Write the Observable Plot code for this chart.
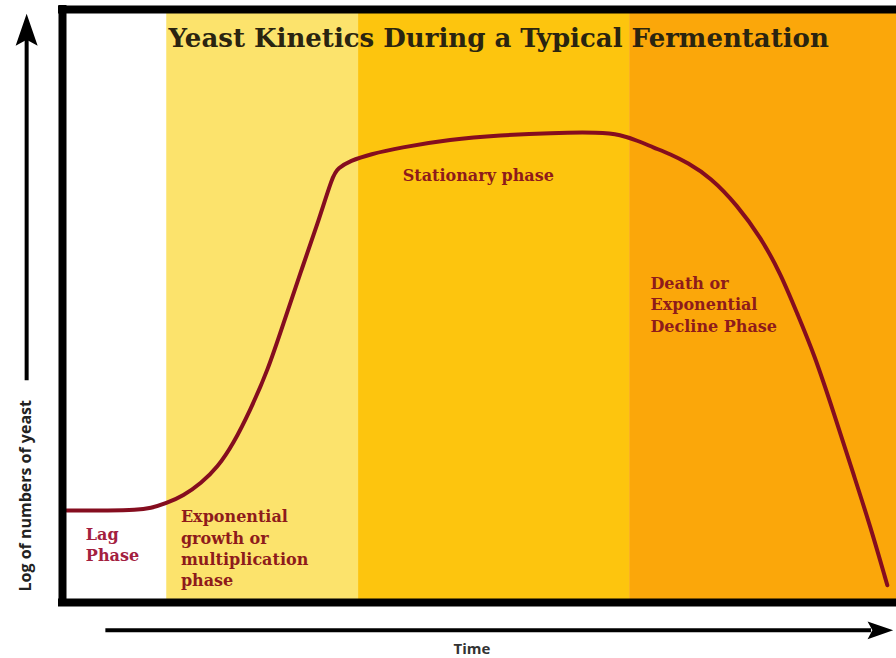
<!DOCTYPE html>
<html><head><meta charset="utf-8">
<script src="https://cdn.jsdelivr.net/npm/d3@7"></script>
<script src="https://cdn.jsdelivr.net/npm/@observablehq/plot@0.6"></script>
<style>html,body{margin:0;padding:0;background:#fff;} #chart svg{display:block}</style>
</head><body><div id="chart"></div>
<script>
// Curve (time in arbitrary units 0–100, log of yeast count in arbitrary units 0–100)
const time = [0.5, 5.8, 8.8, 10.6, 12.4, 14.5, 16.6, 18.6, 20.5, 22.5, 24.6, 26.5, 28.5, 30.6, 32.4, 33.0, 34.5, 36.9, 40.4, 46.5, 52.5, 58.5, 64.5, 66.9, 68.9, 70.9, 72.9, 74.9, 77.7, 80.9, 83.7, 86.1, 88.1, 90.1, 92.5, 94.8, 96.9, 98.9];
const logCount = [15.5, 15.5, 15.6, 15.9, 16.7, 18.0, 20.1, 22.8, 26.8, 32.4, 39.1, 47.1, 55.5, 63.9, 72.0, 73.2, 74.5, 75.6, 76.7, 78.1, 78.8, 79.2, 79.3, 78.9, 77.9, 76.7, 75.6, 74.2, 71.7, 67.0, 61.6, 55.5, 48.7, 42.0, 31.9, 21.8, 12.7, 2.9];

// Phases
const phaseNames = ["Lag", "Exponential", "Stationary", "Death"];
const phaseStart = [0, 12.5, 35.5, 68];
const phaseEnd = [12.5, 35.5, 68, 100];
const phaseLabels = ["Lag\nPhase", "Exponential\ngrowth or\nmultiplication\nphase", "Stationary phase", "Death or\nExponential\nDecline Phase"];
const labelTime = [2.8, 14.2, 40.8, 70.5];
const labelLog = [9.9, 9.3, 72.3, 50.4];

const title = "Yeast Kinetics During a Typical Fermentation";
const xLabel = "Time";
const yLabel = "Log of numbers of yeast";

const curve = time.map((t, i) => ({time: t, log: logCount[i]}));
const bands = phaseNames.map((p, i) => ({phase: p, start: phaseStart[i], end: phaseEnd[i]}));
const labels = phaseNames.map((p, i) => ({phase: p, text: phaseLabels[i], time: labelTime[i], log: labelLog[i]}));

const arrowHead = {
  draw(ctx, size) {
    const k = Math.sqrt(size / Math.PI) / 10;
    ctx.moveTo(0, 0);
    ctx.lineTo(-11 * k, 32 * k);
    ctx.lineTo(0, 26 * k);
    ctx.lineTo(11 * k, 32 * k);
    ctx.closePath();
  }
};

const serif = "'DejaVu Serif', 'Liberation Serif', serif";
const sans = "'Open Sans', 'DejaVu Sans', sans-serif";

const chart = Plot.plot({
  width: 896,
  height: 658,
  marginLeft: 62,
  marginRight: 0,
  marginTop: 9,
  marginBottom: 56,
  x: {domain: [0, 100], axis: null},
  y: {domain: [0, 100], axis: null},
  color: {domain: phaseNames, range: ["#ffffff", "#fce36c", "#fdc50e", "#fba70a"]},
  marks: [
    Plot.rect(bands, {x1: "start", x2: "end", y1: 0, y2: 100, fill: "phase"}),
    Plot.text([title], {x: 52.3, y: 95.1, text: d => d, fontFamily: serif, fontWeight: "bold", fontSize: 26, fill: "#2a2410"}),
    Plot.line(curve, {x: "time", y: "log", stroke: "#850d1f", strokeWidth: 4, curve: "basis"}),
    Plot.text(labels, {x: "time", y: "log", text: "text", textAnchor: "start", lineAnchor: "middle", lineHeight: 1.32,
      fontFamily: serif, fontWeight: "bold", fontSize: 16,
      fill: d => d.phase === "Lag" ? "#a3203f" : "#8e1b1b"}),
    // frame
    Plot.ruleY([0, 100], {stroke: "black", strokeWidth: 8, strokeLinecap: "square"}),
    Plot.ruleX([0], {stroke: "black", strokeWidth: 8, strokeLinecap: "square"}),
    // y axis arrow
    Plot.ruleX([-4.3], {y1: 37.4, y2: 95, stroke: "black", strokeWidth: 4}),
    Plot.dot([0], {x: -4.3, y: 99.3, symbol: arrowHead, r: 10, fill: "black", stroke: "none"}),
    Plot.text([yLabel], {x: -4.4, y: 18, text: d => d, rotate: -90, fontFamily: sans, fontWeight: "bold", fontSize: 16, fill: "#222"}),
    // x axis arrow
    Plot.ruleY([-4.7], {x1: 5.2, x2: 97, stroke: "black", strokeWidth: 4}),
    Plot.dot([0], {x: 99.6, y: -4.7, symbol: arrowHead, r: 8, rotate: 90, fill: "black", stroke: "none"}),
    Plot.text([xLabel], {x: 49.1, y: -7.9, text: d => d, fontFamily: sans, fontWeight: "bold", fontSize: 15, fill: "#333"})
  ]
});
document.getElementById("chart").append(chart);
</script>
</body></html>
